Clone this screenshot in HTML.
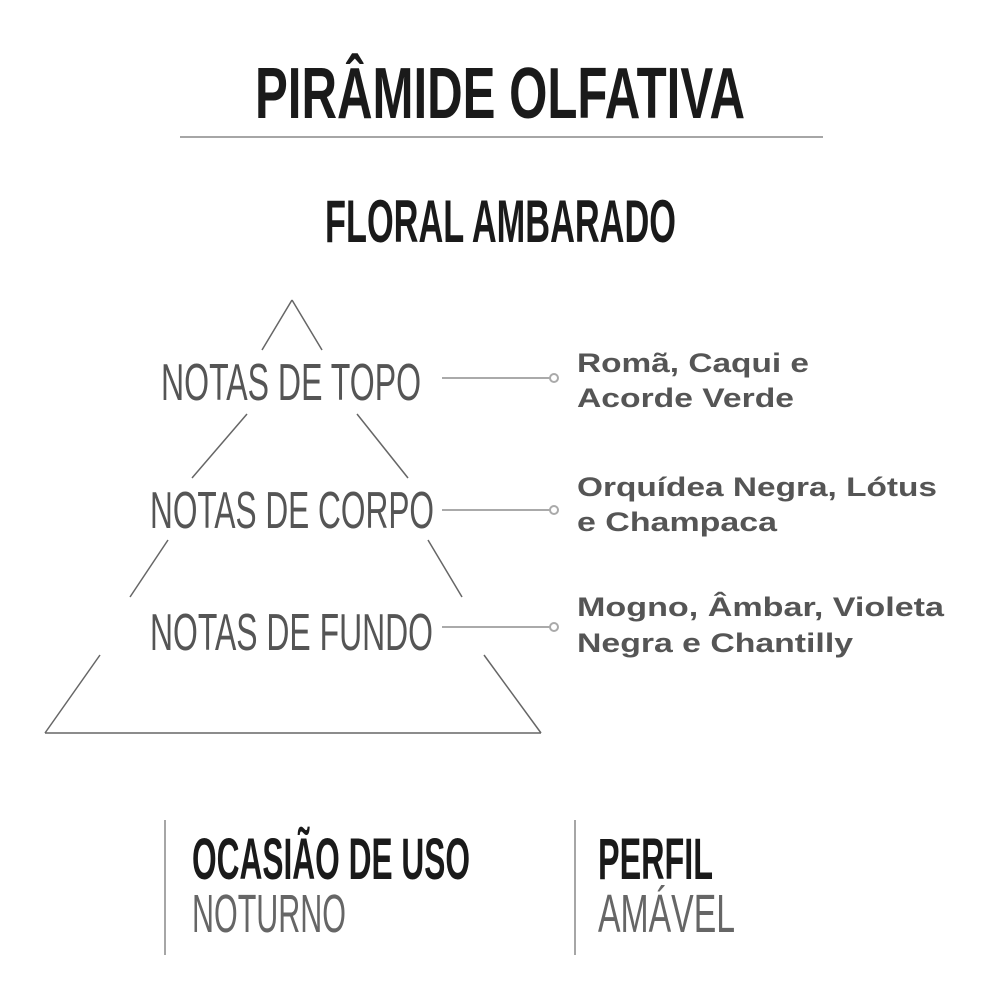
<!DOCTYPE html>
<html><head><meta charset="utf-8"><style>
html,body{margin:0;padding:0;background:#fff;width:988px;height:1000px;overflow:hidden}
svg{display:block}
</style></head><body>
<svg width="988" height="1000" viewBox="0 0 988 1000" xmlns="http://www.w3.org/2000/svg">
<rect width="988" height="1000" fill="#fff"/>
<g font-family="Liberation Sans, sans-serif">
<text x="255" y="118" font-size="72" font-weight="bold" fill="#1a1a1a" textLength="490" lengthAdjust="spacingAndGlyphs">PIRÂMIDE OLFATIVA</text>
<line x1="180" y1="137" x2="823" y2="137" stroke="#888" stroke-width="1.5"/>
<text x="325" y="242" font-size="60" font-weight="bold" fill="#1a1a1a" textLength="351" lengthAdjust="spacingAndGlyphs">FLORAL AMBARADO</text>

<g stroke="#666" stroke-width="1.5" fill="none">
<line x1="292" y1="300" x2="262" y2="350"/>
<line x1="292" y1="300" x2="322" y2="350"/>
<line x1="247" y1="414" x2="192" y2="478"/>
<line x1="357" y1="414" x2="408" y2="478"/>
<line x1="168" y1="540" x2="130" y2="597"/>
<line x1="428" y1="540" x2="462" y2="597"/>
<line x1="100" y1="655" x2="45" y2="733"/>
<line x1="484" y1="655" x2="541" y2="733"/>
<line x1="45" y1="733" x2="541" y2="733"/>
</g>

<g font-size="52" fill="#555">
<text x="161" y="400" textLength="260" lengthAdjust="spacingAndGlyphs">NOTAS DE TOPO</text>
<text x="150" y="528" textLength="284" lengthAdjust="spacingAndGlyphs">NOTAS DE CORPO</text>
<text x="150" y="650" textLength="283" lengthAdjust="spacingAndGlyphs">NOTAS DE FUNDO</text>
</g>

<g stroke="#aaa" stroke-width="2" fill="#fff">
<line x1="442" y1="378" x2="550" y2="378"/><circle cx="554" cy="378" r="4"/>
<line x1="442" y1="510" x2="550" y2="510"/><circle cx="554" cy="510" r="4"/>
<line x1="442" y1="627" x2="550" y2="627"/><circle cx="554" cy="627" r="4"/>
</g>

<g font-size="27" font-weight="bold" fill="#555">
<text x="577" y="372" textLength="232" lengthAdjust="spacingAndGlyphs">Romã, Caqui e</text>
<text x="577" y="407" textLength="217" lengthAdjust="spacingAndGlyphs">Acorde Verde</text>
<text x="577" y="496" textLength="360" lengthAdjust="spacingAndGlyphs">Orquídea Negra, Lótus</text>
<text x="577" y="531" textLength="200" lengthAdjust="spacingAndGlyphs">e Champaca</text>
<text x="577" y="616" textLength="367" lengthAdjust="spacingAndGlyphs">Mogno, Âmbar, Violeta</text>
<text x="577" y="652" textLength="276" lengthAdjust="spacingAndGlyphs">Negra e Chantilly</text>
</g>

<line x1="165" y1="820" x2="165" y2="955" stroke="#888" stroke-width="1.5"/>
<line x1="575" y1="820" x2="575" y2="955" stroke="#888" stroke-width="1.5"/>
<text x="192" y="879" font-size="58" font-weight="bold" fill="#1a1a1a" textLength="278" lengthAdjust="spacingAndGlyphs">OCASIÃO DE USO</text>
<text x="192" y="932" font-size="54" fill="#666" textLength="154" lengthAdjust="spacingAndGlyphs">NOTURNO</text>
<text x="598" y="879" font-size="58" font-weight="bold" fill="#1a1a1a" textLength="115" lengthAdjust="spacingAndGlyphs">PERFIL</text>
<text x="598" y="932" font-size="54" fill="#666" textLength="137" lengthAdjust="spacingAndGlyphs">AMÁVEL</text>
</g>
</svg>
</body></html>
